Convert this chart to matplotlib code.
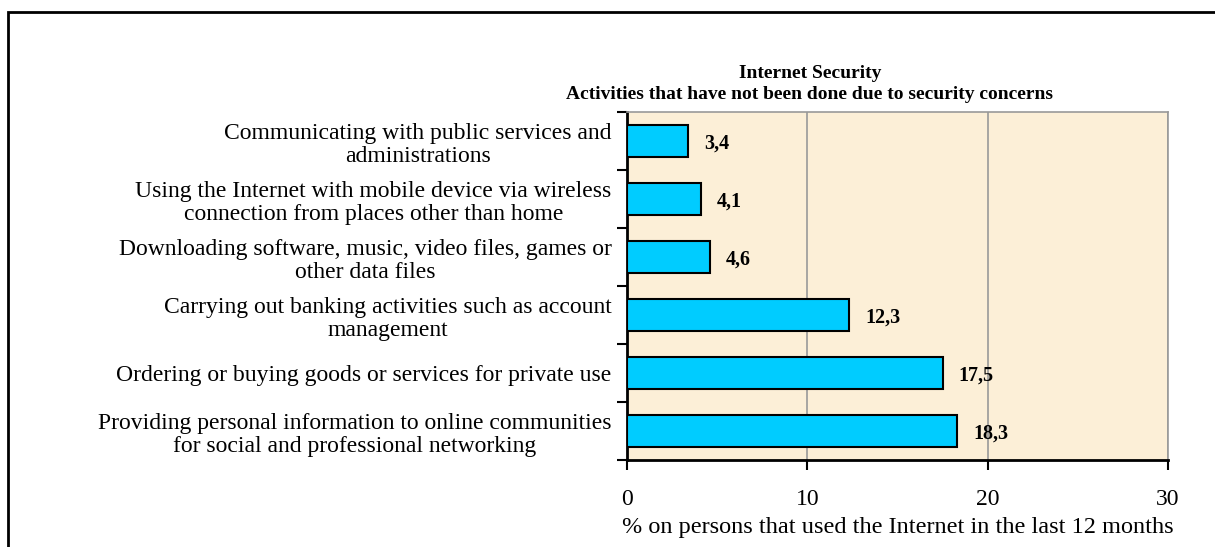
import numpy as np
import matplotlib.pyplot as plt
from matplotlib.patches import Rectangle

# bottom-to-top order, as drawn on the horizontal bar chart
activities = [
    "Providing personal information to online communities\nfor social and professional networking",
    "Ordering or buying goods or services for private use",
    "Carrying out banking activities such as account\nmanagement",
    "Downloading software, music, video files, games or\nother data files",
    "Using the Internet with mobile device via wireless\nconnection from places other than home",
    "Communicating with public services and\nadministrations",
]
shares = [18.3, 17.5, 12.3, 4.6, 4.1, 3.4]
x_ticks = [0, 10, 20, 30]

title = "Internet Security\nActivities that have not been done due to security concerns"
xlabel = "% on persons that used the Internet in the last 12 months"

plt.rcParams['font.family'] = ['Liberation Serif', 'DejaVu Serif']

W, H = 1215, 547
fig = plt.figure(figsize=(W / 100, H / 100), dpi=100)
ax = fig.add_axes([627 / W, 1 - 460 / H, (1168 - 627) / W, (460 - 112) / H])

ax.set_facecolor('#fcefd7')
y = np.arange(len(activities))
ax.barh(y, shares, height=0.55, color='#00ccff', edgecolor='black', linewidth=1.5, zorder=3)

for yi, v in zip(y, shares):
    ax.text(v + 0.9, yi - 0.04, f"{v:.1f}".replace('.', ','), va='center', ha='left',
            fontsize=14.5, fontweight='bold', zorder=4)

ax.set_xlim(0, 30)
ax.set_ylim(-0.5, len(activities) - 0.5)
ax.set_xticks(x_ticks)
ax.xaxis.grid(True, color='#999999', linewidth=1.2, zorder=1)
ax.tick_params(axis='x', direction='out', length=7, width=1.5, labelsize=17, pad=14)

# category labels sit between the boundary ticks
ax.set_yticks(y)
ax.set_yticklabels(activities, fontsize=17, multialignment='center', linespacing=1.15)
ax.set_yticks(np.arange(len(activities) + 1) - 0.5, minor=True)
ax.tick_params(axis='y', which='major', length=0, pad=11)
ax.tick_params(axis='y', which='minor', direction='out', length=7, width=1.5)

ax.set_xlabel(xlabel, fontsize=17.5, labelpad=5)

for side in ('left', 'bottom'):
    ax.spines[side].set_linewidth(2)
    ax.spines[side].set_color('black')
for side in ('top', 'right'):
    ax.spines[side].set_linewidth(1.2)
    ax.spines[side].set_color('#999999')

fig.text(810 / W, 1 - 84 / H, title, ha='center', va='center', fontsize=14,
         fontweight='bold', linespacing=1.25)

# outer frame of the chart object
fig.patches.append(Rectangle((8 / W, -0.1), 1.2, 1.1 - 12 / H, transform=fig.transFigure,
                             fill=False, edgecolor='black', linewidth=2))

fig.savefig('out.png', dpi=100)
